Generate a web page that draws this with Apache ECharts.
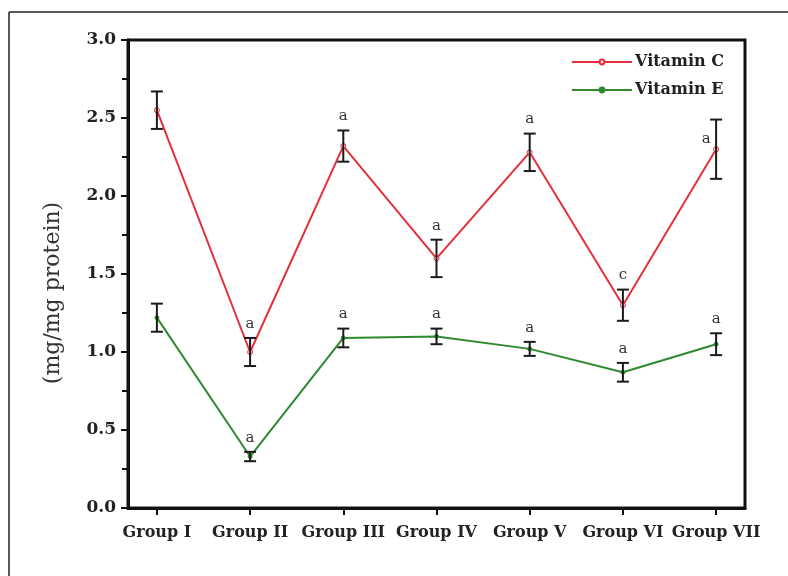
<!DOCTYPE html>
<html>
<head>
<meta charset="utf-8">
<script src="https://cdn.jsdelivr.net/npm/echarts@6/dist/echarts.min.js"></script>
<style>html,body{margin:0;padding:0;background:#fff}#c{width:788px;height:576px}</style>
</head>
<body>
<div id="c"></div>
<script>
var categories = ['Group I','Group II','Group III','Group IV','Group V','Group VI','Group VII'];
var vitCMean = [2.55, 1.00, 2.32, 1.60, 2.28, 1.30, 2.30];
var vitCErr  = [0.12, 0.09, 0.10, 0.12, 0.12, 0.10, 0.19];
var vitCLetters = ['', 'a', 'a', 'a', 'a', 'c', 'a'];
var vitEMean = [1.22, 0.33, 1.09, 1.10, 1.02, 0.87, 1.05];
var vitEErr  = [0.09, 0.03, 0.06, 0.05, 0.045, 0.06, 0.07];
var vitELetters = ['', 'a', 'a', 'a', 'a', 'a', 'a'];
var yTicks = [0, 0.5, 1.0, 1.5, 2.0, 2.5, 3.0];

var FONT = 'DejaVu Serif';
var RED = '#e2313d';
var GREEN = '#2f8a2f';

function xy(vals){ return vals.map(function(v,i){ return [i+1, v]; }); }
function errData(m, e, l){ return m.map(function(v,i){ return [i+1, v, e[i], l[i]]; }); }

function renderErr(sideLetter){
  return function(params, api){
    var x = api.value(0), m = api.value(1), e = api.value(2);
    var letter = api.value(3);
    var top = api.coord([x, m + e]);
    var bot = api.coord([x, m - e]);
    var cap = 6;
    var st = {stroke:'#1a1a1a', lineWidth:2};
    var children = [
      {type:'line', shape:{x1:top[0], y1:top[1], x2:bot[0], y2:bot[1]}, style:st},
      {type:'line', shape:{x1:top[0]-cap, y1:top[1], x2:top[0]+cap, y2:top[1]}, style:st},
      {type:'line', shape:{x1:bot[0]-cap, y1:bot[1], x2:bot[0]+cap, y2:bot[1]}, style:st}
    ];
    if (letter) {
      var side = sideLetter && sideLetter[params.dataIndex];
      var tx = side ? top[0] - 10 : top[0];
      var ty = side ? api.coord([x, m])[1] - 10 : top[1] - 14;
      children.push({type:'text', style:{text:letter, x:tx, y:ty, fill:'#333',
        font:'15px "' + FONT + '"', align:'center', verticalAlign:'middle'}});
    }
    return {type:'group', children:children};
  };
}

var chart = echarts.init(document.getElementById('c'));
chart.setOption({
  animation:false,
  backgroundColor:'#fff',
  graphic:[
    {type:'line', shape:{x1:9, y1:12, x2:788, y2:12}, style:{stroke:'#222', lineWidth:1.5}},
    {type:'line', shape:{x1:9, y1:12, x2:9, y2:576}, style:{stroke:'#222', lineWidth:1.5}}
  ],
  grid:{left:128, right:43, top:40, bottom:68, show:true, borderColor:'#111', borderWidth:3, backgroundColor:'transparent'},
  legend:{
    orient:'vertical', left:566, top:49, itemWidth:60, itemHeight:6, itemGap:12,
    data:['Vitamin C','Vitamin E'],
    textStyle:{fontFamily:FONT, fontWeight:'bold', fontSize:16, color:'#222', padding:[0,0,0,-2]}
  },
  xAxis:{
    type:'value', min:0.69, max:7.31,
    splitLine:{show:false},
    axisLine:{show:true, lineStyle:{color:'#111', width:3}},
    axisTick:{show:true, length:7, lineStyle:{color:'#111', width:2}, customValues:[1,2,3,4,5,6,7]},
    axisLabel:{customValues:[1,2,3,4,5,6,7], margin:17, fontFamily:FONT, fontWeight:'bold', fontSize:16, color:'#222',
      formatter:function(v){ return categories[Math.round(v)-1] || ''; }}
  },
  yAxis:{
    type:'value', min:0, max:3, interval:0.5,
    name:'(mg/mg protein)', nameLocation:'middle', nameGap:64,
    nameTextStyle:{fontFamily:FONT, fontSize:22, color:'#333', padding:[0,38,0,0]},
    splitLine:{show:false},
    axisLine:{show:true, lineStyle:{color:'#111', width:3}},
    axisTick:{show:true, length:7, lineStyle:{color:'#111', width:2}},
    minorTick:{show:true, splitNumber:2, length:6, lineStyle:{color:'#111', width:2}},
    axisLabel:{margin:12, fontFamily:FONT, fontWeight:'bold', fontSize:17, color:'#222',
      formatter:function(v){ return v.toFixed(1); }}
  },
  series:[
    {name:'Vitamin C', type:'line', data:xy(vitCMean), symbol:'circle', symbolSize:5,
      lineStyle:{color:RED, width:2}, itemStyle:{color:'#fbe3e5', borderColor:RED, borderWidth:1}, z:3},
    {name:'Vitamin E', type:'line', data:xy(vitEMean), symbol:'circle', symbolSize:4,
      lineStyle:{color:GREEN, width:2}, itemStyle:{color:GREEN, borderColor:GREEN, borderWidth:1}, z:3},
    {type:'custom', data:errData(vitCMean, vitCErr, vitCLetters), renderItem:renderErr([0,0,0,0,0,0,1]), z:5, silent:true},
    {type:'custom', data:errData(vitEMean, vitEErr, vitELetters), renderItem:renderErr(null), z:5, silent:true}
  ]
});
</script>
</body>
</html>
